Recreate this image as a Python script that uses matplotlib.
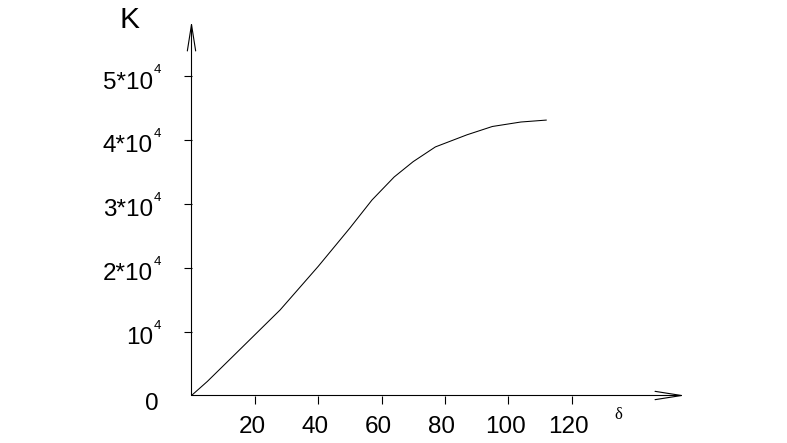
import matplotlib
matplotlib.use("Agg")
import matplotlib.pyplot as plt
from matplotlib.ticker import FixedLocator, FixedFormatter
from matplotlib.transforms import ScaledTranslation

# curve (delta, K)
delta = [0, 5, 12, 20, 28, 34, 40, 46, 50, 57, 64, 70, 77, 87, 95, 104, 112]
k_vals = [0, 2200, 5600, 9500, 13400, 16800, 20200, 23800, 26200, 30600,
          34200, 36600, 38900, 40800, 42100, 42800, 43100]

x_ticks = [20, 40, 60, 80, 100, 120]
y_ticks = [10000, 20000, 30000, 40000, 50000]
y_labels = ["10", "2*10", "3*10", "4*10", "5*10"]
y_exp = "4"

plt.rcParams['font.family'] = ['Liberation Sans', 'DejaVu Sans']

W, H = 787, 443
x0, y0 = 191.5, 395.5      # origin in pixels
x_tip, y_tip = 685, 21     # arrow tips
px_x = 3.167               # pixels per delta unit
px_y = 63.9 / 10000        # pixels per K unit

fig = plt.figure(figsize=(W / 100, H / 100), dpi=100)
ax = fig.add_axes([x0 / W, (H - y0) / H, (x_tip - x0) / W, (y0 - y_tip) / H])
ax.set_xlim(0, (x_tip - x0) / px_x)
ax.set_ylim(0, (y0 - y_tip) / px_y)
ax.patch.set_alpha(0)
for s in ax.spines.values():
    s.set_visible(False)

ax.plot(delta, k_vals, color='black', lw=0.75)

# axes with open arrow heads
arrow = dict(arrowstyle='->,head_length=1.9,head_width=0.3', lw=0.8, color='black',
             shrinkA=0, shrinkB=0)
ax.annotate('', xy=(1, 0), xytext=(0, 0), xycoords='axes fraction', arrowprops=arrow)
ax.annotate('', xy=(0, 1), xytext=(0, 0), xycoords='axes fraction', arrowprops=arrow)

ax.xaxis.set_major_locator(FixedLocator(x_ticks))
ax.yaxis.set_major_locator(FixedLocator(y_ticks))
ax.yaxis.set_major_formatter(FixedFormatter(y_labels))
ax.tick_params(axis='both', direction='out', length=5.8, width=0.8, labelsize=17.5)
ax.tick_params(axis='x', pad=9)
ax.tick_params(axis='y', pad=22)

for lab in ax.get_xticklabels():
    lab.set_transform(lab.get_transform() + ScaledTranslation(-3 / 100, 0, fig.dpi_scale_trans))
for lab in ax.get_yticklabels():
    lab.set_transform(lab.get_transform() + ScaledTranslation(0, -4 / 100, fig.dpi_scale_trans))

# small raised exponent after each y label
for yv in y_ticks:
    ax.annotate(y_exp, xy=(0, yv), xytext=(-34, 6), textcoords='offset pixels',
                ha='center', va='center', fontsize=9.5)

ax.annotate('0', xy=(0, 0), xytext=(-39.5, -8.5), textcoords='offset pixels',
            ha='center', va='center', fontsize=17.5)
ax.annotate('K', xy=(0, 1), xycoords='axes fraction', xytext=(-62.5, 1),
            textcoords='offset pixels', ha='center', va='center', fontsize=21.5)
ax.annotate('δ', xy=(1, 0), xycoords='axes fraction', xytext=(-67, -19.5),
            textcoords='offset pixels', ha='center', va='center', fontsize=12,
            family=['Liberation Serif', 'DejaVu Serif'])

fig.savefig('out.png', dpi=100)
